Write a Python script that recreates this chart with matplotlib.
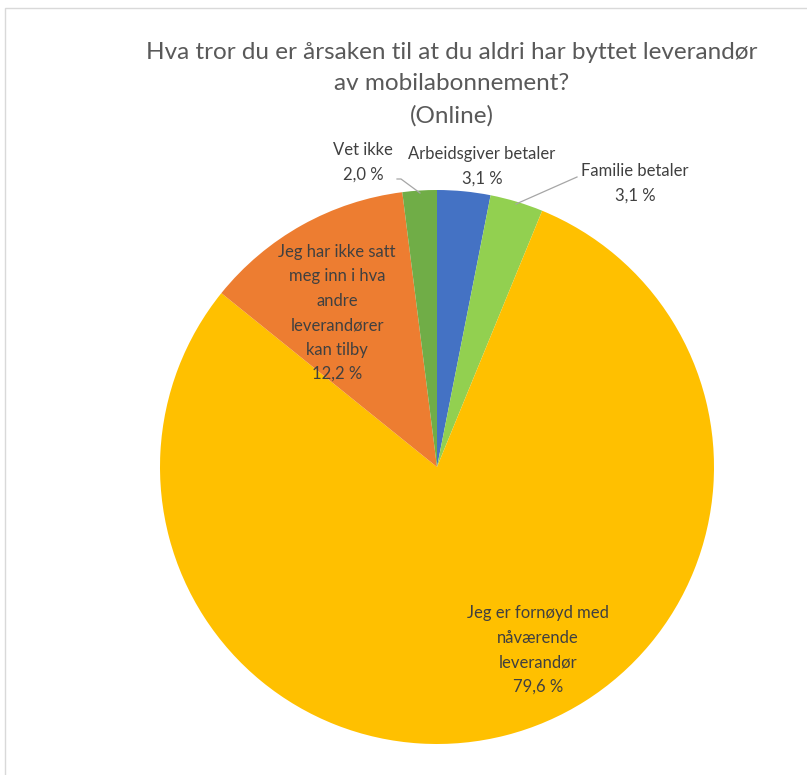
import matplotlib
matplotlib.use("Agg")
import matplotlib.pyplot as plt
from matplotlib.patches import Rectangle

plt.rcParams['font.family'] = ['Lato', 'DejaVu Sans']

categories = [
    "Arbeidsgiver betaler",
    "Familie betaler",
    "Jeg er fornøyd med\nnåværende\nleverandør",
    "Jeg har ikke satt\nmeg inn i hva\nandre\nleverandører\nkan tilby",
    "Vet ikke",
]
values = [3.1, 3.1, 79.6, 12.2, 2.0]
colors = ["#4472C4", "#92D050", "#FFC000", "#ED7D31", "#70AD47"]

title = "Hva tror du er årsaken til at du aldri har byttet leverandør\nav mobilabonnement?\n(Online)"

W, H = 807, 775
fig = plt.figure(figsize=(W / 100, H / 100), dpi=100)

# chart frame
fig.patches.append(Rectangle((5 / W, -0.1), 1.2, 1 - 8 / H + 0.1, transform=fig.transFigure,
                             fill=False, edgecolor="#D9D9D9", linewidth=1))

cx, cy, r = 437, 467, 277
ax = fig.add_axes([(cx - r) / W, (H - cy - r) / H, 2 * r / W, 2 * r / H])
wedges, _ = ax.pie(values, colors=colors, startangle=90, counterclock=False,
                   radius=1, wedgeprops=dict(linewidth=0))
ax.set_xlim(-1, 1)
ax.set_ylim(-1, 1)
ax.set_aspect("equal")
ax.axis("off")

def pct(v):
    return f"{v:.1f} %".replace(".", ",")

def px(x, y):
    # pixel position -> data coords of the pie axes
    return ((x - cx) / r, (cy - y) / r)

txt = dict(color="#404040", fontsize=12, ha="center", va="center", linespacing=1.65)

label_pos = [(482, 166), (635, 183), (538, 650), (337, 313), (363, 162)]
for cat, v, (x, y) in zip(categories, values, label_pos):
    ax.text(*px(x, y), f"{cat}\n{pct(v)}", **txt, clip_on=False)

# leader lines for the small outer labels
lc = dict(color="#A6A6A6", linewidth=0.9, clip_on=False)
p = [px(397, 179), px(401, 179), px(420, 193)]
ax.plot([q[0] for q in p], [q[1] for q in p], **lc)
p = [px(577, 177), px(516, 204)]
ax.plot([q[0] for q in p], [q[1] for q in p], **lc)

fig.text(452 / W, 1 - 84 / H, title, ha="center", va="center", fontsize=17.5,
         color="#595959", linespacing=1.6)

fig.savefig("out.png", dpi=100)
